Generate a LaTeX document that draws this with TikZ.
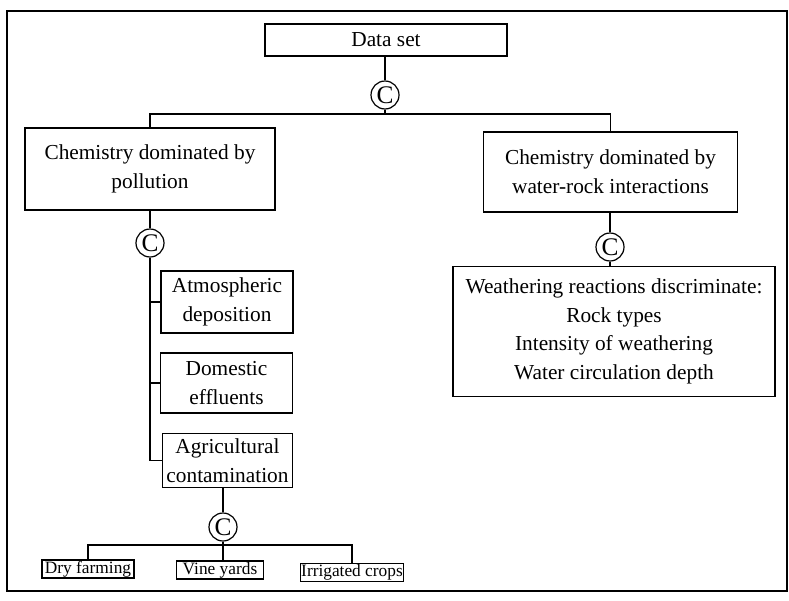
\documentclass[tikz,border=0pt]{standalone}
\usepackage{fontspec}
\setmainfont{Liberation Serif}
\begin{document}
\begin{tikzpicture}[x=0.75pt,y=-0.75pt,
  box/.style={draw,line width=0.9pt,align=center,inner sep=0pt,font=\fontsize{16}{21.5}\selectfont},
  smallbox/.style={draw,line width=0.9pt,align=center,inner sep=0pt,font=\fontsize{13}{15}\selectfont},
  cnode/.style={draw,circle,line width=0.9pt,inner sep=0pt,minimum size=21pt,font=\fontsize{19}{19}\selectfont},
  conn/.style={line width=0.8pt}]
\useasboundingbox (0,0) rectangle (789,600);
\draw[line width=0.9pt] (7,11) rectangle (787,591);

\node[box,minimum width=181.5pt,minimum height=24pt] (data) at (386,40) {Data set};
\node[cnode] (c1) at (385,95) {C};
\node[box,minimum width=187.5pt,minimum height=61.5pt] (pol) at (150,169) {Chemistry dominated by\\pollution};
\node[box,minimum width=191pt,minimum height=60pt] (wr) at (610.5,172) {Chemistry dominated by\\water-rock interactions};
\node[cnode] (c3) at (610,247) {C};
\node[box,minimum width=241.5pt,minimum height=98pt] (weath) at (614,331.5) {Weathering reactions discriminate:\\Rock types\\Intensity of weathering\\Water circulation depth};
\node[cnode] (c2) at (150,243) {C};
\node[box,minimum width=99pt,minimum height=46.5pt] (atm) at (227,302) {Atmospheric\\deposition};
\node[box,minimum width=99.5pt,minimum height=45pt] (dom) at (226.5,383) {Domestic\\effluents};
\node[box,minimum width=98pt,minimum height=41pt] (agr) at (227.5,460.5) {Agricultural\\contamination};
\node[cnode] (c4) at (223,527) {C};
\node[smallbox,minimum width=69pt,minimum height=13.5pt] (dry) at (88,569) {Dry farming};
\node[smallbox,minimum width=65pt,minimum height=13.5pt] (vine) at (220,570) {Vine yards};
\node[smallbox,minimum width=77pt,minimum height=14pt] (irr) at (352,572.5) {Irrigated crops};

\coordinate (b1) at (385,114);
\coordinate (b4) at (223,545);

\draw[conn] (c1.north |- data.south) -- (c1.north);
\draw[conn] (c1.south) -- (b1);
\draw[conn] (pol.north) -- (pol.north |- b1) -- (wr.north |- b1) -- (wr.north);
\draw[conn] (pol.south) -- (c2.north);
\draw[conn] (c2.south) |- (agr.west);
\draw[conn] (c2.south |- atm.west) -- (atm.west);
\draw[conn] (c2.south |- dom.west) -- (dom.west);
\draw[conn] (wr.south -| c3.north) -- (c3.north);
\draw[conn] (c3.south) -- (c3.south |- weath.north);
\draw[conn] (c4.north |- agr.south) -- (c4.north);
\draw[conn] (c4.south) -- (c4.south |- vine.north);
\draw[conn] (dry.north) -- (dry.north |- b4) -- (irr.north |- b4) -- (irr.north);
\end{tikzpicture}
\end{document}
